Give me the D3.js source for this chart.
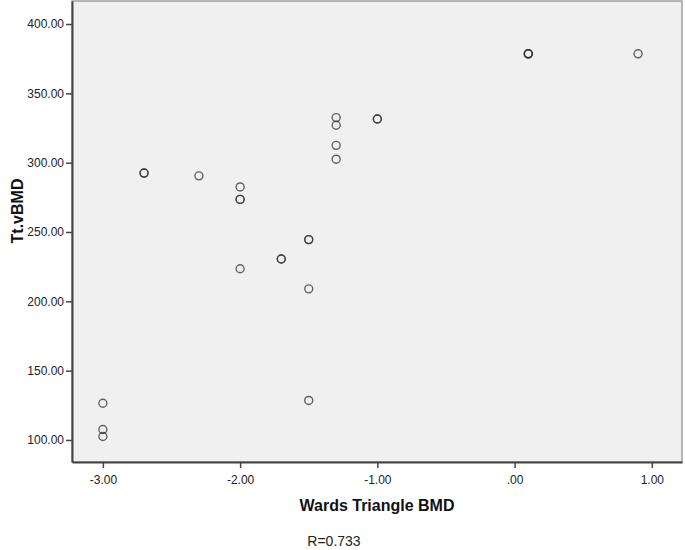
<!DOCTYPE html>
<html>
<head>
<meta charset="utf-8">
<script src="https://cdn.jsdelivr.net/npm/d3@7"></script>
<style>
  body { margin: 0; background: #fff; }
  text { font-family: "Liberation Sans", Arial, sans-serif; }
</style>
</head>
<body>
<div id="chart"></div>
<script>
// Wards Triangle BMD (x) vs Tt.vBMD (y); repeated pairs are overlapping cases
var wardsBMD = [-3.0, -3.0, -3.0, -2.7, -2.7, -2.3, -2.0, -2.0, -2.0, -2.0,
                -1.7, -1.7, -1.5, -1.5, -1.5, -1.5, -1.3, -1.3, -1.3, -1.3,
                -1.0, -1.0, 0.1, 0.1, 0.1, 0.9];
var ttVBMD   = [126.5, 107.5, 102.5, 292.5, 292.5, 290.5, 282.5, 273.5, 273.5, 223.5,
                230.5, 230.5, 244.5, 244.5, 209, 128.5, 332.5, 327, 312.5, 302.5,
                331.5, 331.5, 378.5, 378.5, 378.5, 378.5];
var xTicks = [-3, -2, -1, 0, 1];
var yTicks = [100, 150, 200, 250, 300, 350, 400];

var W = 685, H = 550;
var plot = {left: 72, top: 1, right: 682, bottom: 462};

var svg = d3.select("#chart").append("svg")
    .attr("width", W)
    .attr("height", H);

var x = d3.scaleLinear().domain([-3.225, 1.22]).range([plot.left, plot.right]);
var y = d3.scaleLinear().domain([84.1, 416.6]).range([plot.bottom, plot.top]);

// SPSS style labels: plain hyphen, no leading zero
var fmt = function (v) {
    var s = v.toFixed(2);
    return s.replace(/^0\./, ".").replace(/^-0\./, "-.");
};

svg.append("rect")
    .attr("x", plot.left).attr("y", plot.top)
    .attr("width", plot.right - plot.left)
    .attr("height", plot.bottom - plot.top)
    .attr("fill", "#f0f0f0")
    .attr("stroke", "#8a8a8a")
    .attr("stroke-width", 1.2);

var xAxis = svg.append("g")
    .attr("transform", "translate(0," + plot.bottom + ")")
    .call(d3.axisBottom(x).tickValues(xTicks).tickFormat(fmt).tickSize(6).tickSizeOuter(0));
var yAxis = svg.append("g")
    .attr("transform", "translate(" + plot.left + ",0)")
    .call(d3.axisLeft(y).tickValues(yTicks).tickFormat(fmt).tickSize(6).tickSizeOuter(0));

[xAxis, yAxis].forEach(function (g) {
    g.select(".domain").attr("stroke", "#444").attr("stroke-width", 2);
    g.selectAll(".tick line").attr("stroke", "#444").attr("stroke-width", 1.5);
    g.selectAll(".tick text")
        .attr("fill", "#222")
        .style("font-size", "12px")
        .style("font-family", "'Liberation Sans', Arial, sans-serif");
});
xAxis.selectAll(".tick text").attr("dy", "1.1em");
yAxis.selectAll(".tick text").attr("dx", "1px");

var pts = wardsBMD.map(function (v, i) { return {x: v, y: ttVBMD[i]}; });

svg.append("g")
    .selectAll("circle")
    .data(pts)
    .enter()
    .append("circle")
    .attr("cx", function (d) { return x(d.x); })
    .attr("cy", function (d) { return y(d.y); })
    .attr("r", 4)
    .attr("fill", "none")
    .attr("stroke", "#333")
    .attr("stroke-opacity", 0.75)
    .attr("stroke-width", 1.4);

svg.append("text")
    .attr("x", 377).attr("y", 511)
    .attr("text-anchor", "middle")
    .style("font-size", "16px")
    .style("font-weight", "bold")
    .attr("fill", "#111")
    .text("Wards Triangle BMD");

svg.append("text")
    .attr("transform", "translate(23,211) rotate(-90)")
    .attr("text-anchor", "middle")
    .style("font-size", "16px")
    .style("font-weight", "bold")
    .attr("fill", "#111")
    .text("Tt.vBMD");

svg.append("text")
    .attr("x", 334).attr("y", 546)
    .attr("text-anchor", "middle")
    .style("font-size", "14px")
    .attr("fill", "#222")
    .text("R=0.733");
</script>
</body>
</html>
